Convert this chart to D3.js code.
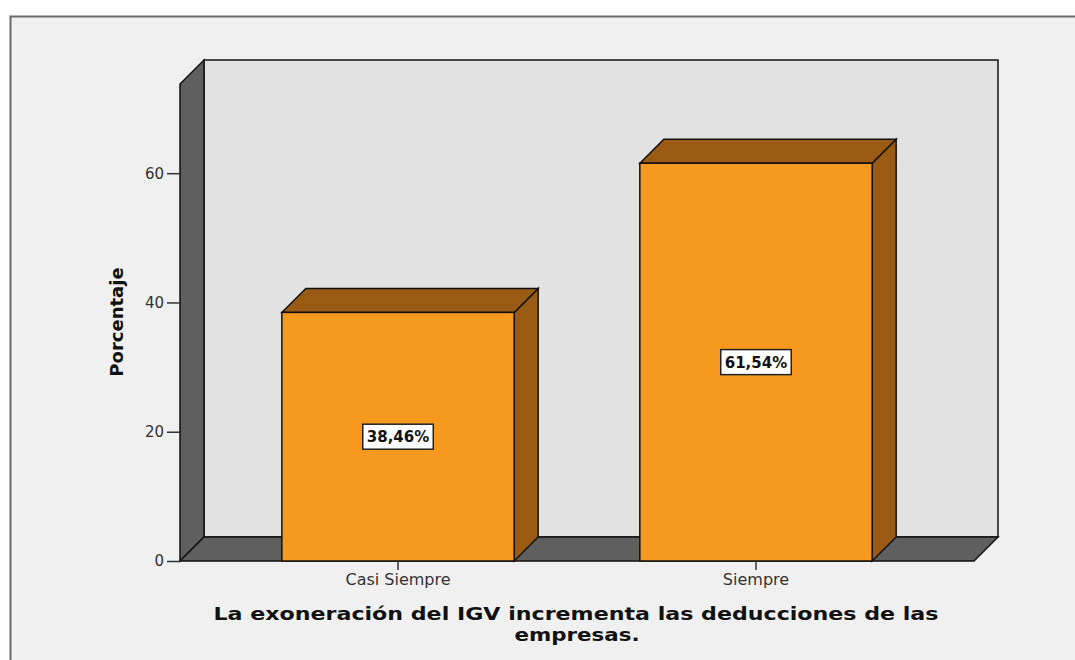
<!DOCTYPE html>
<html>
<head>
<meta charset="utf-8">
<script src="https://cdn.jsdelivr.net/npm/d3@7"></script>
<style>
  body { margin: 0; background: #fff; }
  text { font-family: "DejaVu Sans", sans-serif; }
</style>
</head>
<body>
<div id="chart"></div>
<script>
// porcentaje por categoria
var categories = ["Casi Siempre", "Siempre"];
var percents = [38.46, 61.54];
var valueLabels = ["38,46%", "61,54%"];
var yTicks = [0, 20, 40, 60];
var yMax = 73.8;

var W = 1075, H = 660;
var depth = 24;
var plotLeft = 180, plotRight = 974, plotBottom = 561, plotTop = 84;

var svg = d3.select("#chart").append("svg")
  .attr("width", W)
  .attr("height", H);

// panel
svg.append("rect")
  .attr("x", 10).attr("y", 16)
  .attr("width", W).attr("height", H)
  .attr("fill", "#f0f0f0");
svg.append("path")
  .attr("d", "M10.5," + H + "V16.5H" + W)
  .attr("fill", "none")
  .attr("stroke", "#6a6a6a")
  .attr("stroke-width", 2);

var x = d3.scaleBand()
  .domain(categories)
  .range([plotLeft, plotRight])
  .paddingInner(0.351)
  .paddingOuter(0.2845);

var y = d3.scaleLinear()
  .domain([0, yMax])
  .range([plotBottom, plotTop]);

var line = d3.line();

// back wall
svg.append("rect")
  .attr("x", plotLeft + depth).attr("y", y(yMax) - depth)
  .attr("width", plotRight - plotLeft).attr("height", y(0) - y(yMax))
  .attr("fill", "#e2e2e2")
  .attr("stroke", "#111").attr("stroke-width", 1.5);

// left wall
svg.append("path")
  .attr("d", line([[plotLeft, y(0)], [plotLeft, y(yMax)], [plotLeft + depth, y(yMax) - depth], [plotLeft + depth, y(0) - depth]]) + "Z")
  .attr("fill", "#5f5f5f")
  .attr("stroke", "#111").attr("stroke-width", 1.5);

// floor
svg.append("path")
  .attr("d", line([[plotLeft, y(0)], [plotLeft + depth, y(0) - depth], [plotRight + depth, y(0) - depth], [plotRight, y(0)]]) + "Z")
  .attr("fill", "#5f5f5f")
  .attr("stroke", "#111").attr("stroke-width", 1.5);

// bars
var bars = svg.selectAll("g.bar")
  .data(percents)
  .enter().append("g")
  .attr("class", "bar");

bars.append("path")
  .attr("d", function(d, i) {
    var x0 = x(categories[i]), x1 = x0 + x.bandwidth();
    return line([[x1, y(0)], [x1, y(d)], [x1 + depth, y(d) - depth], [x1 + depth, y(0) - depth]]) + "Z";
  })
  .attr("fill", "#995b13")
  .attr("stroke", "#111").attr("stroke-width", 1.5);

bars.append("path")
  .attr("d", function(d, i) {
    var x0 = x(categories[i]), x1 = x0 + x.bandwidth();
    return line([[x0, y(d)], [x0 + depth, y(d) - depth], [x1 + depth, y(d) - depth], [x1, y(d)]]) + "Z";
  })
  .attr("fill", "#995b13")
  .attr("stroke", "#111").attr("stroke-width", 1.5);

bars.append("rect")
  .attr("x", function(d, i) { return x(categories[i]); })
  .attr("y", function(d) { return y(d); })
  .attr("width", x.bandwidth())
  .attr("height", function(d) { return y(0) - y(d); })
  .attr("fill", "#f8991f")
  .attr("stroke", "#111").attr("stroke-width", 1.5);

// value labels
bars.each(function(d, i) {
  var g = d3.select(this);
  var cx = x(categories[i]) + x.bandwidth() / 2;
  var cy = y(d / 2);
  var box = g.append("rect")
    .attr("fill", "#fff")
    .attr("stroke", "#222").attr("stroke-width", 1.5);
  var t = g.append("text")
    .attr("x", cx).attr("y", cy)
    .attr("dy", "0.36em")
    .attr("text-anchor", "middle")
    .attr("font-size", 15)
    .attr("font-weight", "bold")
    .attr("fill", "#111")
    .text(valueLabels[i]);
  var bb = t.node().getBBox();
  box.attr("x", bb.x - 4).attr("y", cy - 12.5)
    .attr("width", bb.width + 8).attr("height", 25);
});

// y axis
var yAxis = d3.axisLeft(y)
  .tickValues(yTicks)
  .tickSize(13)
  .tickPadding(3);

svg.append("g")
  .attr("transform", "translate(" + plotLeft + ",0)")
  .call(yAxis)
  .call(function(g) {
    g.select(".domain").remove();
    g.selectAll("line").attr("stroke", "#333").attr("stroke-width", 1.5);
    g.selectAll("text").attr("font-size", 15).attr("fill", "#333")
      .attr("font-family", "DejaVu Sans, sans-serif");
  });

// x axis
var xAxis = d3.axisBottom(x)
  .tickSize(9)
  .tickPadding(4);

svg.append("g")
  .attr("transform", "translate(0," + plotBottom + ")")
  .call(xAxis)
  .call(function(g) {
    g.select(".domain").remove();
    g.selectAll("line").attr("stroke", "#333").attr("stroke-width", 1.5);
    g.selectAll("text").attr("font-size", 16).attr("fill", "#333")
      .attr("font-family", "DejaVu Sans, sans-serif");
  });

// y title
svg.append("text")
  .attr("transform", "translate(123,322) rotate(-90)")
  .attr("text-anchor", "middle")
  .attr("font-size", 18)
  .attr("font-weight", "bold")
  .attr("fill", "#111")
  .text("Porcentaje");

// x title
var title = svg.append("text")
  .attr("text-anchor", "middle")
  .attr("font-size", 17)
  .attr("font-weight", "bold")
  .attr("fill", "#111");
title.append("tspan")
  .attr("x", 576).attr("y", 620)
  .attr("textLength", 725)
  .attr("lengthAdjust", "spacingAndGlyphs")
  .text("La exoneración del IGV incrementa las deducciones de las");
title.append("tspan")
  .attr("x", 577).attr("y", 641)
  .attr("textLength", 125)
  .attr("lengthAdjust", "spacingAndGlyphs")
  .text("empresas.");
</script>
</body>
</html>
